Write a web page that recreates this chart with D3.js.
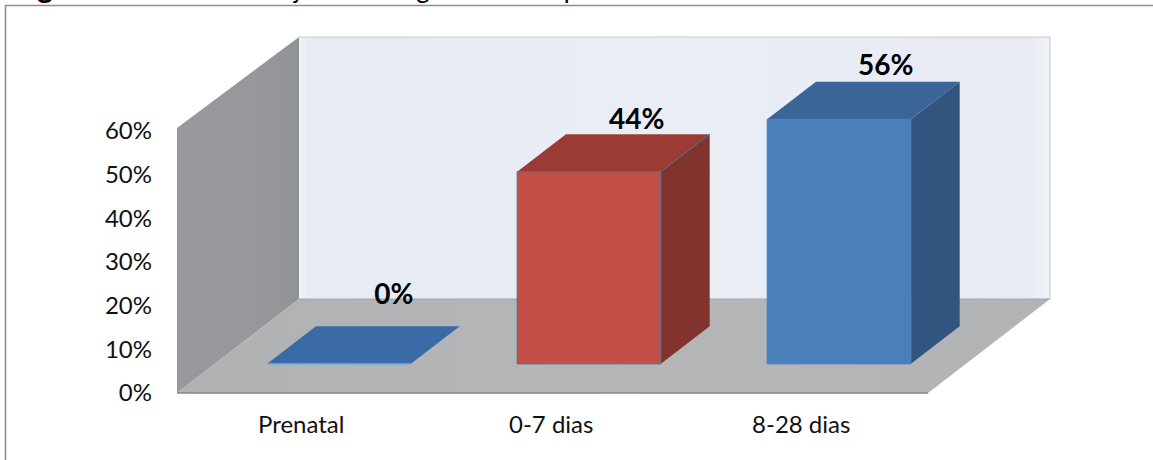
<!DOCTYPE html>
<html>
<head>
<meta charset="utf-8">
<script src="https://cdn.jsdelivr.net/npm/d3@7/dist/d3.min.js"></script>
<style>
html, body { margin: 0; padding: 0; background: #fff; overflow: hidden; }
svg { display: block; }
text { font-family: Lato, "Open Sans", sans-serif; fill: #111; }
</style>
</head>
<body>
<svg id="chart" width="1153" height="460"></svg>
<script>
// Chart data
const categories = ["Prenatal", "0-7 dias", "8-28 dias"];
const percentages = [0, 44, 56];
const axisTicks = [0, 10, 20, 30, 40, 50, 60];

// Colours per bar: front, top and side faces
const frontColours = ["#3a6ba6", "#c44f48", "#4a7fbc"];
const topColours = ["#3a6ba6", "#9b3c34", "#3c6597"];
const sideColours = ["#3a6ba6", "#83332d", "#32557f"];
const edgeColours = ["#6fa0d8", "#3f7391", "#4a7fbc"];

// Offsets of the value labels from the rear top edge of each bar
const labelShiftX = [6, -1, -2];
const labelLift = [22, 5, 7];

const svg = d3.select("#chart");

// Box geometry: the floor runs from the front edge back along a fixed oblique direction
const depthX = 122, depthY = 94;
const barNear = 0.31, barFar = 0.71;

const x = d3.scaleBand().domain(categories).range([177, 928])
  .paddingInner(0.425).paddingOuter(0.2145).align(0.488);
const y = d3.scaleLinear().domain([0, 60]).range([393, 131]);

// Projects a floor position, a value and a depth fraction onto the page
const project = (px, value, z) => [px + depthX * z, y(value) - depthY * z];
const poly = pts => "M" + pts.map(p => p.join(",")).join("L") + "Z";

// Gradients for the walls and floor
const defs = svg.append("defs");
function linear(id, x2, y2, stops) {
  const g = defs.append("linearGradient").attr("id", id)
    .attr("x1", 0).attr("y1", 0).attr("x2", x2).attr("y2", y2);
  stops.forEach(([o, c]) => g.append("stop").attr("offset", o).attr("stop-color", c));
}
linear("backWall", 1, 0, [[0, "#f1f4fa"], [0.012, "#e7ebf4"], [0.5, "#e9edf6"], [0.97, "#e8ebf4"], [1, "#f0f2f7"]]);
linear("sideWall", 1, 0, [[0, "#98999c"], [0.6, "#98989c"], [0.95, "#919496"], [1, "#8f9395"]]);
linear("floor", 1, 0, [[0, "#b0b1b3"], [0.5, "#b4b6b8"], [1, "#b1b3b5"]]);

// Frame around the figure, open on the right and at the bottom
svg.append("path").attr("d", "M5.5,460V5.5H1153")
  .attr("fill", "none").attr("stroke", "#8f8f8f").attr("stroke-width", 1.6);

// Descenders of the heading, which runs off the top of the page
const headingGlyphs = [
  { t: "g", cx: 45, w: 700, s: 30 },
  { t: "j", cx: 297, w: 400, s: 26 },
  { t: "g", cx: 423, w: 400, s: 26 },
  { t: "p", cx: 571, w: 400, s: 26 }
];
svg.selectAll("text.heading").data(headingGlyphs).join("text")
  .attr("class", "heading")
  .attr("x", d => d.cx).attr("y", -2)
  .attr("text-anchor", "middle")
  .attr("font-size", d => d.s)
  .attr("font-weight", d => d.w)
  .style("fill", "#000")
  .text(d => d.t);

// Box: back wall, left wall and floor
const backTop = project(x.range()[0], 60, 1);
const backBottom = project(x.range()[0], 0, 1);
const backRightTop = project(x.range()[1], 60, 1);
const backRightBottom = project(x.range()[1], 0, 1);
svg.append("path").attr("d", poly([backTop, backRightTop, backRightBottom, backBottom]))
  .attr("fill", "url(#backWall)").attr("stroke", "none");
svg.append("path").attr("d", `M${backTop}L${backRightTop}L${backRightBottom}`)
  .attr("fill", "none").attr("stroke", "#c6c8ca").attr("stroke-width", 1);

const frontWallTop = [x.range()[0], y(60) - 3];
svg.append("path").attr("d", poly([frontWallTop, backTop, backBottom, project(x.range()[0], 0, 0)]))
  .attr("fill", "url(#sideWall)");

svg.append("path")
  .attr("d", poly([project(x.range()[0], 0, 0), project(x.range()[1], 0, 0), backRightBottom, backBottom]))
  .attr("fill", "url(#floor)");
svg.append("line")
  .attr("x1", x.range()[0]).attr("x2", x.range()[1])
  .attr("y1", y(0)).attr("y2", y(0))
  .attr("stroke", "#85888a").attr("stroke-width", 1.4);
svg.append("line")
  .attr("x1", backBottom[0]).attr("x2", backRightBottom[0])
  .attr("y1", backBottom[1]).attr("y2", backRightBottom[1])
  .attr("stroke", "#a4a6a8").attr("stroke-width", 1);

// Bars, each made of side, top and front faces
const rows = categories.map((c, i) => ({
  category: c, value: percentages[i],
  front: frontColours[i], top: topColours[i], side: sideColours[i], edge: edgeColours[i],
  shiftX: labelShiftX[i], lift: labelLift[i]
}));
const bar = svg.selectAll("g.bar").data(rows).join("g").attr("class", "bar");

bar.append("path").attr("d", d => {
  const r = x(d.category) + x.bandwidth();
  return poly([project(r, d.value, barNear), project(r, d.value, barFar), project(r, 0, barFar), project(r, 0, barNear)]);
}).attr("fill", d => d.side);

bar.append("path").attr("d", d => {
  const l = x(d.category), r = l + x.bandwidth();
  return poly([project(l, d.value, barNear), project(r, d.value, barNear), project(r, d.value, barFar), project(l, d.value, barFar)]);
}).attr("fill", d => d.top);

bar.append("path").attr("d", d => {
  const l = x(d.category), r = l + x.bandwidth();
  return poly([project(l, d.value, barNear), project(r, d.value, barNear), project(r, 0, barNear), project(l, 0, barNear)]);
}).attr("fill", d => d.front).attr("stroke", d => d.edge).attr("stroke-width", 1);

// Edge between the top and side faces, visible on the red bar
bar.filter(d => d.category === categories[1]).append("line")
  .each(function(d) {
    const r = x(d.category) + x.bandwidth();
    const a = project(r, d.value, barNear), b = project(r, d.value, barFar);
    d3.select(this).attr("x1", a[0]).attr("y1", a[1]).attr("x2", b[0]).attr("y2", b[1]);
  })
  .attr("stroke", d => d.edge).attr("stroke-width", 1);

// Value labels above the rear of each bar
bar.append("text")
  .attr("x", d => project(x(d.category) + x.bandwidth() / 2, d.value, barFar)[0] + d.shiftX)
  .attr("y", d => project(x(d.category), d.value, barFar)[1] - d.lift)
  .attr("text-anchor", "middle")
  .attr("font-size", 28)
  .attr("font-weight", 700)
  .style("fill", "#000")
  .text(d => d.value + "%");

// Axes
const yAxis = svg.append("g").attr("transform", "translate(160,0)")
  .call(d3.axisLeft(y).tickValues(axisTicks).tickSize(0).tickPadding(8).tickFormat(d => d + "%"));
const xAxis = svg.append("g").attr("transform", `translate(0,${y(0)})`)
  .call(d3.axisBottom(x).tickSize(0).tickPadding(23));
[yAxis, xAxis].forEach(a => {
  a.select(".domain").remove();
  a.selectAll("text").attr("font-size", 24).style("font-family", "Lato, 'Open Sans', sans-serif").style("fill", "#111");
});
</script>
</body>
</html>
